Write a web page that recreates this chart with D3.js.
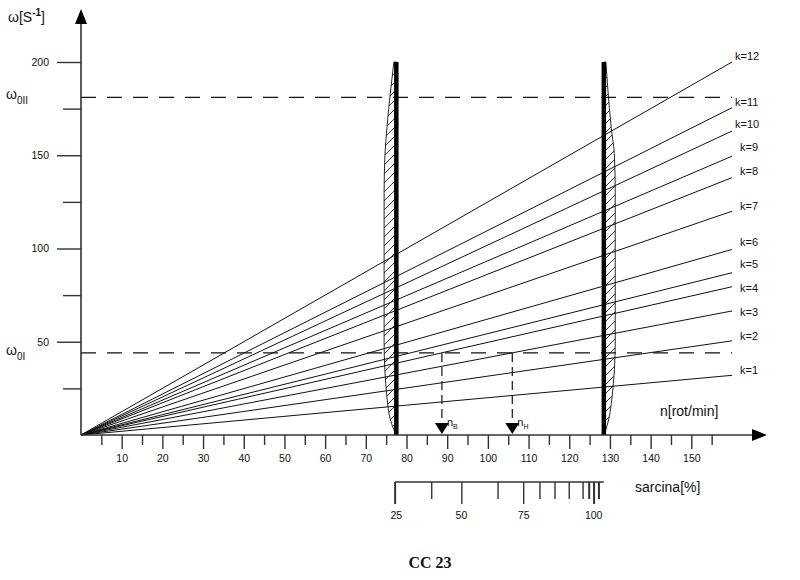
<!DOCTYPE html>
<html><head><meta charset="utf-8">
<script src="https://cdn.jsdelivr.net/npm/d3@7"></script>
<style>body{margin:0;background:#fff}svg{display:block}text{font-family:Arial,"Liberation Sans",sans-serif}</style>
</head><body>
<svg id="c" width="800" height="580"></svg>
<script>
// ---- data ----
const kLabels = ["k=1","k=2","k=3","k=4","k=5","k=6","k=7","k=8","k=9","k=10","k=11","k=12"];
const omegaAtEnd = [32,50.5,66.5,79.5,87,99.5,120,138,149.5,163,175.5,200]; // ω at n = 160
const nEnd = 160;
const yTicksMajor = [50,100,150,200];
const yTicksMinor = [25,75,125,175];
const xTicksMajor = [10,20,30,40,50,60,70,80,90,100,110,120,130,140,150];
const xTicksMinor = [5,15,25,35,45,55,65,75,85,95,105,115,125,135,145,155];
const omega0I = 44, omega0II = 181;
const nLow = 77.5, nHigh = 128.5;
const nB = 88.7, nH = 106;
const sarcinaLabels = ["25","50","75","100"];
const sarcinaLabelN = [77.5, 93.5, 108.8, 126];
const sarcinaTickN = [77.2, 86.2, 93.6, 102.5, 108.8, 112.8, 116.5, 120, 123.4, 124.9, 126.1, 127.3];
const sarcinaTickLong = [1,0,1,0,1,0,0,0,0,0,1,0];
const lensOmega = [0,5,20,50,100,130,150,165,185,200];
const lensWidthLow = [0,1,2.3,3,3,3,2.8,2.3,1.4,0.6];
const lensWidthHigh = [0,0.8,2,2.8,2.8,2.8,2.6,1.8,1,0.5];

// ---- layout ----
const svg = d3.select("#c");
const x = d3.scaleLinear().domain([0,160]).range([81,732]);
const y = d3.scaleLinear().domain([0,200]).range([435,62]);
const ink = "#111";

const defs = svg.append("defs");
const pat = defs.append("pattern").attr("id","hatch").attr("patternUnits","userSpaceOnUse")
  .attr("width",9).attr("height",9);
pat.append("path").attr("d","M-1,1 l2,-2 M0,9 l9,-9 M8,10 l2,-2").attr("stroke","#222").attr("stroke-width",0.9);

// dashed horizontal lines
[omega0I, omega0II].forEach(v=>{
  svg.append("line").attr("x1",x(0)).attr("x2",x(nEnd)).attr("y1",y(v)).attr("y2",y(v))
    .attr("stroke",ink).attr("stroke-width",1.2).attr("stroke-dasharray","15,11");
});

// k lines
const line = d3.line().x(d=>x(d[0])).y(d=>y(d[1]));
omegaAtEnd.forEach(v=>{
  svg.append("path").attr("d",line([[0,0],[nEnd,v]])).attr("stroke",ink).attr("stroke-width",1).attr("fill","none");
});
const labelDy = [-5,-5,1,1,-9,-7,-5,-6,-9,-7,-6,-6];
const labelDx = [8,8,8,8,8,8,8,8,8,3,3,3];
kLabels.forEach((t,i)=>{
  svg.append("text").attr("x",x(nEnd)+labelDx[i]).attr("y",y(omegaAtEnd[i])+labelDy[i]).attr("dy","0.35em")
    .attr("font-size",11).attr("fill",ink).text(t);
});

// lenses
const lensLow = d3.area().x0(d=>x(nLow - d[1])).x1(()=>x(nLow)).y(d=>y(d[0])).curve(d3.curveMonotoneY);
const lensHigh = d3.area().x0(()=>x(nHigh)).x1(d=>x(nHigh + d[1])).y(d=>y(d[0])).curve(d3.curveMonotoneY);
svg.append("path").attr("d",lensLow(lensOmega.map((o,i)=>[o,lensWidthLow[i]])))
  .attr("fill","url(#hatch)").attr("stroke",ink).attr("stroke-width",0.9);
svg.append("path").attr("d",lensHigh(lensOmega.map((o,i)=>[o,lensWidthHigh[i]])))
  .attr("fill","url(#hatch)").attr("stroke",ink).attr("stroke-width",0.9);
[nLow,nHigh].forEach(n=>{
  svg.append("line").attr("x1",x(n)).attr("x2",x(n)).attr("y1",y(200)).attr("y2",y(0))
    .attr("stroke","#000").attr("stroke-width",4.5);
});

// nB / nH markers
[[nB,"B"],[nH,"H"]].forEach(([n,s])=>{
  svg.append("line").attr("x1",x(n)).attr("x2",x(n)).attr("y1",y(omega0I)).attr("y2",y(0)-10)
    .attr("stroke",ink).attr("stroke-width",1.2).attr("stroke-dasharray","9,5");
  const cx = x(n);
  svg.append("path").attr("d",`M${cx-7},${y(0)-12}L${cx+7},${y(0)-12}L${cx},${y(0)-1}Z`).attr("fill","#000");
  const t = svg.append("text").attr("x",cx+5).attr("y",y(0)-9).attr("font-size",11).attr("fill",ink);
  t.append("tspan").text("n");
  t.append("tspan").attr("font-size",7).attr("dy",3).text(s);
});

// axes
svg.append("line").attr("x1",x(0)).attr("x2",x(0)).attr("y1",y(0)).attr("y2",20).attr("stroke","#333").attr("stroke-width",1.6);
svg.append("path").attr("d",`M${x(0)-6},24L${x(0)+6},24L${x(0)},9Z`).attr("fill","#000");
svg.append("line").attr("x1",x(0)).attr("x2",756).attr("y1",y(0)).attr("y2",y(0)).attr("stroke","#333").attr("stroke-width",1.6);
svg.append("path").attr("d",`M752,${y(0)-6}L752,${y(0)+6}L767,${y(0)}Z`).attr("fill","#000");

const yAxMaj = d3.axisLeft(y).tickValues(yTicksMajor).tickSize(24).tickPadding(8);
const gy = svg.append("g").attr("transform",`translate(${x(0)},0)`).call(yAxMaj);
gy.select(".domain").remove();
gy.selectAll("line").attr("stroke","#333").attr("stroke-width",1.4);
gy.selectAll("text").attr("font-size",10.5).attr("fill",ink);
const gy2 = svg.append("g").attr("transform",`translate(${x(0)},0)`).call(d3.axisLeft(y).tickValues(yTicksMinor).tickSize(18).tickFormat(""));
gy2.select(".domain").remove();
gy2.selectAll("line").attr("stroke","#333").attr("stroke-width",1.4);

const gx = svg.append("g").attr("transform",`translate(0,${y(0)})`)
  .call(d3.axisBottom(x).tickValues(xTicksMajor).tickSize(14).tickPadding(6));
gx.select(".domain").remove();
gx.selectAll("line").attr("stroke","#333").attr("stroke-width",1.4);
gx.selectAll("text").attr("font-size",10.5).attr("fill",ink);
const gx2 = svg.append("g").attr("transform",`translate(0,${y(0)})`)
  .call(d3.axisBottom(x).tickValues(xTicksMinor).tickSize(10).tickFormat(""));
gx2.select(".domain").remove();
gx2.selectAll("line").attr("stroke","#333").attr("stroke-width",1.4);

// axis titles
const yt = svg.append("text").attr("x",8).attr("y",22).attr("font-size",14).attr("fill",ink);
yt.append("tspan").text("ω[S");
yt.append("tspan").attr("font-size",10).attr("dy",-6).attr("font-weight","bold").text("-1");
yt.append("tspan").attr("dy",6).text("]");
[[omega0II,"0II"],[omega0I,"0I"]].forEach(([v,s])=>{
  const t = svg.append("text").attr("x",6).attr("y",y(v)+2).attr("font-size",14).attr("fill",ink);
  t.append("tspan").text("ω");
  t.append("tspan").attr("font-size",10).attr("dy",5).text(s);
});
svg.append("text").attr("x",660).attr("y",416).attr("font-size",14).attr("fill",ink).text("n[rot/min]");

// sarcina scale
const sy = 482;
svg.append("line").attr("x1",x(sarcinaTickN[0])).attr("x2",x(nHigh)).attr("y1",sy).attr("y2",sy).attr("stroke","#333").attr("stroke-width",1.4);
sarcinaTickN.forEach((n,i)=>{
  svg.append("line").attr("x1",x(n)).attr("x2",x(n)).attr("y1",sy).attr("y2",sy+(sarcinaTickLong[i]?22:17))
    .attr("stroke","#333").attr("stroke-width",i===0||i>=9?2:1.4);
});
sarcinaLabels.forEach((t,i)=>{
  svg.append("text").attr("x",x(sarcinaLabelN[i])).attr("y",sy+37).attr("text-anchor","middle")
    .attr("font-size",10.5).attr("fill",ink).text(t);
});
svg.append("text").attr("x",635).attr("y",492).attr("font-size",14).attr("fill",ink).text("sarcina[%]");

svg.append("text").attr("x",430).attr("y",568).attr("text-anchor","middle")
  .style("font-family","'Liberation Serif','DejaVu Serif',serif").style("font-size","16px").style("font-weight","bold")
  .attr("fill",ink).text("CC 23");
</script>
</body></html>
